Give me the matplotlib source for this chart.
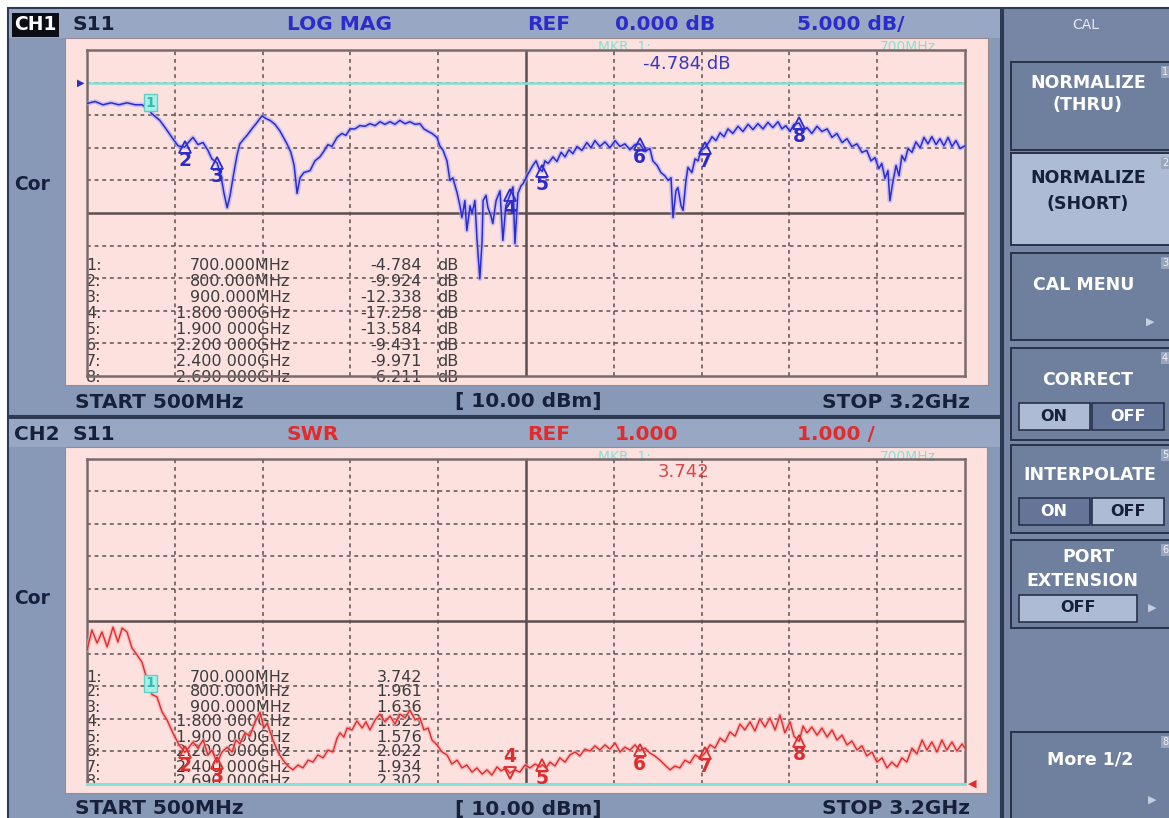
import matplotlib
matplotlib.use("Agg")
import matplotlib.pyplot as plt
from matplotlib.patches import Rectangle

# ---- data ----
# CH1: S11 LOG MAG, frequency in MHz, level in dB
ch1_freq = [500, 525, 549, 574, 598, 623, 648, 669, 688, 700,
            724, 743, 761, 780, 800, 813, 826, 841, 857, 872,
            884, 900, 912, 921, 931, 940, 949, 961, 970, 983,
            992, 1007, 1023, 1038, 1050, 1063, 1078, 1093, 1115, 1127,
            1137, 1146, 1155, 1167, 1186, 1201, 1216, 1226, 1241, 1253,
            1269, 1284, 1296, 1309, 1324, 1339, 1355, 1370, 1386, 1401,
            1416, 1432, 1447, 1462, 1478, 1493, 1509, 1524, 1536, 1546,
            1561, 1576, 1585, 1595, 1607, 1616, 1625, 1638, 1647, 1653,
            1662, 1668, 1678, 1684, 1693, 1699, 1708, 1715, 1718, 1727,
            1733, 1742, 1748, 1758, 1770, 1779, 1788, 1800, 1810, 1816,
            1825, 1835, 1841, 1853, 1862, 1871, 1881, 1890, 1900, 1908,
            1918, 1933, 1945, 1958, 1970, 1982, 1994, 2007, 2022, 2037,
            2050, 2062, 2077, 2093, 2108, 2124, 2139, 2154, 2170, 2185,
            2200, 2216, 2231, 2240, 2253, 2265, 2277, 2287, 2296, 2302,
            2311, 2317, 2327, 2333, 2342, 2348, 2360, 2370, 2379, 2388,
            2400, 2413, 2422, 2434, 2447, 2459, 2471, 2486, 2502, 2517,
            2533, 2548, 2563, 2579, 2594, 2609, 2625, 2637, 2649, 2662,
            2674, 2690, 2702, 2714, 2729, 2745, 2760, 2776, 2791, 2806,
            2822, 2837, 2852, 2868, 2883, 2898, 2911, 2923, 2935, 2944,
            2954, 2963, 2969, 2978, 2988, 2997, 3006, 3015, 3025, 3037,
            3049, 3062, 3074, 3086, 3098, 3111, 3123, 3135, 3148, 3160,
            3172, 3185, 3200]
ch1_db = [-3.2, -2.9, -3.4, -3.1, -3.4, -3.1, -3.4, -3.4, -4.0, -4.8,
          -5.8, -7.1, -8.4, -9.7, -9.9, -9.1, -8.4, -9.5, -9.2, -10.4,
          -11.7, -12.3, -14.3, -16.9, -19.2, -17.3, -14.6, -11.2, -9.4, -8.6,
          -8.1, -7.1, -6.1, -5.1, -5.5, -5.8, -6.4, -7.4, -9.4, -10.7,
          -12.7, -17.0, -14.6, -13.8, -13.5, -12.0, -11.4, -10.7, -9.5, -9.8,
          -8.4, -7.8, -8.1, -7.1, -7.1, -6.6, -6.7, -6.3, -6.6, -6.0,
          -6.4, -6.0, -6.4, -5.8, -6.3, -6.0, -6.4, -6.3, -7.1, -7.4,
          -7.8, -8.4, -9.7, -10.4, -12.0, -15.0, -14.6, -16.9, -18.9, -20.7,
          -18.1, -22.7, -18.9, -20.1, -18.1, -23.8, -30.1, -24.2, -18.1, -17.3,
          -19.2, -20.4, -21.6, -18.1, -16.6, -24.2, -18.9, -17.3, -16.0, -24.7,
          -17.0, -15.8, -15.5, -14.3, -13.5, -12.7, -12.0, -13.2, -13.6, -12.0,
          -12.4, -11.4, -12.1, -10.7, -11.4, -10.3, -10.9, -9.8, -10.4, -9.2,
          -10.0, -8.9, -9.8, -9.1, -10.0, -8.9, -9.8, -9.4, -10.3, -9.5,
          -9.4, -10.6, -10.1, -12.0, -12.7, -13.8, -14.3, -15.0, -14.6, -20.7,
          -16.6, -16.1, -18.9, -19.6, -15.0, -13.0, -13.8, -11.7, -12.0, -10.4,
          -10.0, -9.1, -8.3, -8.9, -7.7, -8.3, -7.1, -7.8, -6.7, -7.5,
          -6.4, -7.2, -6.3, -7.1, -6.1, -6.9, -6.0, -7.1, -6.6, -7.5,
          -6.4, -6.2, -7.4, -6.9, -7.8, -6.7, -7.5, -7.1, -8.4, -7.8,
          -9.2, -8.6, -9.8, -9.4, -10.7, -10.4, -12.0, -11.5, -13.2, -12.4,
          -14.7, -13.5, -18.1, -15.3, -12.7, -14.3, -11.2, -12.0, -10.1, -10.7,
          -9.1, -10.0, -8.4, -9.4, -8.3, -9.5, -8.6, -9.7, -8.4, -9.8,
          -8.9, -10.1, -9.7]

# CH2: S11 SWR
ch2_freq = [500, 515, 531, 546, 562, 580, 595, 608, 623, 638,
            654, 669, 685, 700, 715, 731, 746, 764, 783, 801,
            814, 826, 841, 857, 872, 884, 900, 915, 931, 946,
            958, 970, 986, 1001, 1017, 1032, 1044, 1054, 1063, 1072,
            1087, 1103, 1118, 1133, 1149, 1164, 1180, 1195, 1210, 1226,
            1241, 1256, 1269, 1278, 1290, 1300, 1315, 1330, 1346, 1358,
            1370, 1386, 1401, 1416, 1432, 1447, 1462, 1478, 1493, 1509,
            1524, 1536, 1549, 1561, 1576, 1592, 1607, 1622, 1638, 1653,
            1668, 1684, 1699, 1715, 1730, 1745, 1761, 1773, 1788, 1800,
            1816, 1831, 1847, 1862, 1878, 1893, 1900, 1911, 1924, 1939,
            1954, 1970, 1985, 2001, 2016, 2031, 2047, 2062, 2077, 2093,
            2108, 2124, 2139, 2154, 2170, 2185, 2200, 2216, 2231, 2246,
            2262, 2277, 2293, 2308, 2323, 2339, 2354, 2370, 2385, 2400,
            2416, 2431, 2447, 2462, 2477, 2493, 2508, 2523, 2539, 2554,
            2569, 2585, 2600, 2616, 2631, 2646, 2662, 2674, 2690, 2702,
            2714, 2729, 2745, 2760, 2776, 2791, 2806, 2822, 2837, 2852,
            2868, 2883, 2898, 2914, 2929, 2945, 2960, 2975, 2991, 3006,
            3021, 3037, 3052, 3068, 3083, 3098, 3114, 3129, 3144, 3160,
            3175, 3191, 3200]
ch2_swr = [5.11, 5.73, 5.33, 5.67, 5.21, 5.82, 5.36, 5.79, 5.67, 5.18,
           4.96, 4.74, 4.19, 3.74, 3.67, 3.20, 2.96, 2.56, 2.19, 1.96,
           2.12, 2.28, 2.09, 2.34, 1.88, 2.03, 1.64, 1.97, 2.12, 1.97,
           2.34, 2.22, 2.56, 2.46, 2.90, 3.20, 2.71, 2.86, 2.59, 2.34,
           1.97, 1.72, 1.54, 1.42, 1.57, 1.48, 1.72, 1.66, 1.88, 1.79,
           2.03, 1.97, 2.40, 2.56, 2.43, 2.71, 2.65, 2.93, 2.71, 2.90,
           2.65, 2.96, 3.14, 2.90, 3.08, 2.83, 3.14, 3.02, 3.26, 2.96,
           3.02, 2.65, 2.71, 2.34, 2.19, 1.97, 1.88, 1.60, 1.72, 1.48,
           1.57, 1.35, 1.48, 1.29, 1.42, 1.26, 1.51, 1.39, 1.48, 1.32,
           1.42, 1.35, 1.57, 1.48, 1.60, 1.51, 1.58, 1.48, 1.66, 1.54,
           1.79, 1.66, 1.88, 1.97, 1.85, 2.06, 2.00, 2.16, 2.03, 2.19,
           2.06, 2.25, 1.97, 2.12, 2.03, 2.19, 2.02, 2.09, 1.94, 1.85,
           1.72, 1.57, 1.42, 1.54, 1.48, 1.72, 1.63, 1.88, 1.79, 1.93,
           2.19, 2.09, 2.40, 2.28, 2.59, 2.46, 2.83, 2.65, 2.90, 2.62,
           2.99, 2.74, 3.02, 2.65, 3.11, 2.56, 2.90, 2.46, 2.30, 2.77,
           2.56, 2.74, 2.49, 2.71, 2.43, 2.65, 2.34, 2.49, 2.19, 2.31,
           2.03, 2.16, 1.85, 1.97, 1.66, 1.79, 1.48, 1.66, 1.51, 1.79,
           1.66, 2.09, 1.91, 2.34, 2.03, 2.28, 1.97, 2.34, 2.03, 2.28,
           2.00, 2.22, 2.09]

# markers
mkr_freq = [700, 800, 900, 1800, 1900, 2200, 2400, 2690]
mkr_db = [-4.784, -9.924, -12.338, -17.258, -13.584, -9.431, -9.971, -6.211]
mkr_swr = [3.742, 1.961, 1.636, 1.323, 1.576, 2.022, 1.934, 2.302]
mkr_freq_text = ["700.000MHz", "800.000MHz", "900.000MHz", "1.800 000GHz",
                 "1.900 000GHz", "2.200 000GHz", "2.400 000GHz", "2.690 000GHz"]

# ---- colours ----
FRAME = "#8899b8"
HEADER = "#97a7c4"
PINK = "#fde1df"
DARK = "#2e3a52"
GRID = "#5e4e50"
BLUE = "#2c2ccc"
RED = "#e02c2c"
CYAN = "#86e0d6"
INK = "#17203a"
PANEL = "#7686a4"
KEY = "#6f7f9e"
KEY_HI = "#adbbd4"

W, H = 1169, 818
fig = plt.figure(figsize=(W / 100, H / 100), dpi=100)
fig.patch.set_facecolor("white")

bg = fig.add_axes([0, 0, 1, 1])
bg.set_xlim(0, W)
bg.set_ylim(H, 0)
bg.axis("off")


def box(x0, y0, x1, y1, fc, ec="none", lw=0.0, z=1):
    bg.add_patch(Rectangle((x0, y0), x1 - x0, y1 - y0, facecolor=fc,
                           edgecolor=ec, linewidth=lw, zorder=z))


def txt(x, y, s, color=INK, size=14, weight="bold", ha="left", **kw):
    bg.text(x, y, s, color=color, fontsize=size, fontweight=weight,
            ha=ha, va="center", family="DejaVu Sans", zorder=5, **kw)


# channel frames
box(8, 8, 1001, 416, FRAME, ec=DARK, lw=1.5)
box(9, 9, 1000, 38, HEADER)
box(65, 38, 988, 385, PINK, ec="#9a8a90", lw=0.8)
box(8, 418, 1001, 830, FRAME, ec=DARK, lw=1.5)
box(9, 419, 1000, 447, HEADER)
box(65, 447, 987, 793, PINK, ec="#9a8a90", lw=0.8)

# headers / footers
txt(14, 25, "CH1", color="white", size=13.5,
    bbox=dict(boxstyle="square,pad=0.12", fc="#0c0c14", ec="none"))
txt(72, 25, "S11", size=14.5)
txt(287, 25, "LOG MAG", color=BLUE, size=14.5)
txt(527, 25, "REF", color=BLUE, size=14.5)
txt(615, 25, "0.000 dB", color=BLUE, size=14.5)
txt(797, 25, "5.000 dB/", color=BLUE, size=14.5)
txt(14, 185, "Cor", size=13.5)
txt(75, 402, "START 500MHz", size=14.5)
txt(455, 402, "[ 10.00 dBm]", size=14.5)
txt(822, 402, "STOP 3.2GHz", size=14.5)

txt(14, 434, "CH2", size=14.5)
txt(72, 434, "S11", size=14.5)
txt(287, 434, "SWR", color=RED, size=14.5)
txt(527, 434, "REF", color=RED, size=14.5)
txt(615, 434, "1.000", color=RED, size=14.5)
txt(797, 434, "1.000 /", color=RED, size=14.5)
txt(14, 598, "Cor", size=13.5)
txt(75, 809, "START 500MHz", size=14.5)
txt(455, 809, "[ 10.00 dBm]", size=14.5)
txt(822, 809, "STOP 3.2GHz", size=14.5)

# marker readouts
txt(598, 47, "MKR  1:", color=CYAN, size=10, weight="normal")
txt(880, 47, "700MHz", color=CYAN, size=10, weight="normal")
txt(643, 64, "-4.784 dB", color="#3a3ab8", size=13, weight="normal")
txt(598, 457, "MKR  1:", color=CYAN, size=10, weight="normal")
txt(880, 457, "700MHz", color=CYAN, size=10, weight="normal")
txt(658, 472, "3.742", color="#d84848", size=13, weight="normal")

# marker tables
for i, (ft, v) in enumerate(zip(mkr_freq_text, mkr_db)):
    y = 265 + 16 * i
    txt(86, y, f"{i + 1}:", color="#3c3c3c", size=11.5, weight="normal")
    txt(290, y, ft, color="#3c3c3c", size=11.5, weight="normal", ha="right")
    txt(422, y, f"{v:.3f}", color="#3c3c3c", size=11.5, weight="normal", ha="right")
    txt(437, y, "dB", color="#3c3c3c", size=11.5, weight="normal")
for i, (ft, v) in enumerate(zip(mkr_freq_text, mkr_swr)):
    y = 677 + 15 * i
    txt(86, y, f"{i + 1}:", color="#3c3c3c", size=11.5, weight="normal")
    txt(290, y, ft, color="#3c3c3c", size=11.5, weight="normal", ha="right")
    txt(422, y, f"{v:.3f}", color="#3c3c3c", size=11.5, weight="normal", ha="right")


# ---- the two trace grids ----
def chan_axes(top, bottom):
    ax = fig.add_axes([87 / W, 1 - bottom / H, 878 / W, (bottom - top) / H])
    ax.patch.set_alpha(0)
    ax.set_xticks([])
    ax.set_yticks([])
    for s in ax.spines.values():
        s.set_color("#7a6a6c")
        s.set_linewidth(1.8)
    return ax


def grid(ax, ylo, yhi, ndiv=10):
    ax.set_xlim(500, 3200)
    ax.set_ylim(ylo, yhi)
    xstep = (3200 - 500) / 10
    ystep = (yhi - ylo) / ndiv
    for i in range(1, 10):
        ls = "-" if i == 5 else (0, (2.5, 2.5))
        lw = 1.8 if i == 5 else 1.1
        ax.axvline(500 + xstep * i, color=GRID, lw=lw, ls=ls, zorder=1)
        ax.axhline(ylo + ystep * i, color=GRID, lw=lw, ls=ls, zorder=1)


ax1 = chan_axes(50, 376)
grid(ax1, -45, 5)
ax1.axhline(0, color=CYAN, lw=1.8, zorder=2)
ax1.plot(ch1_freq, ch1_db, color="#a4a4ff", lw=3.4, alpha=0.55, zorder=3)
ax1.plot(ch1_freq, ch1_db, color=BLUE, lw=1.1, zorder=4)
ax1.annotate("▶", xy=(0, 0), xycoords=("axes fraction", "data"), xytext=(-2, 0),
             textcoords="offset points", ha="right", va="center", color=BLUE, fontsize=7)

ax2 = chan_axes(459, 783.5)
grid(ax2, 1, 11)
ax2.plot(ch2_freq, ch2_swr, color="#f6a8a8", lw=3.0, alpha=0.6, zorder=3)
ax2.plot(ch2_freq, ch2_swr, color=RED, lw=1.0, zorder=4)
ax2.axhline(1, color=CYAN, lw=2.2, zorder=5, clip_on=False)
ax2.annotate("◀", xy=(1, 1), xycoords=("axes fraction", "data"), xytext=(2, 0),
             textcoords="offset points", ha="left", va="center", color=RED, fontsize=8)


def markers(ax, vals, color, down=()):
    for n, (f, v) in enumerate(zip(mkr_freq, vals), 1):
        if n == 1:
            ax.annotate("1", (f, v), xytext=(-1, 3), textcoords="offset points",
                        ha="center", va="bottom", color="#38b8b0", fontsize=10,
                        fontweight="bold", zorder=6,
                        bbox=dict(boxstyle="square,pad=0.12", fc="#a6f0e6", ec="#60d0c6"))
            continue
        if n in down:
            ax.plot(f, v, marker="v", ms=8, mfc="none", mec=color, mew=1.3, zorder=6)
            ax.annotate(str(n), (f, v), xytext=(0, 5), textcoords="offset points",
                        ha="center", va="bottom", color=color, fontsize=13.5,
                        fontweight="bold", zorder=6)
        else:
            ax.plot(f, v, marker="^", ms=8, mfc="none", mec=color, mew=1.3, zorder=6)
            ax.annotate(str(n), (f, v), xytext=(0, -3), textcoords="offset points",
                        ha="center", va="top", color=color, fontsize=13.5,
                        fontweight="bold", zorder=6)


markers(ax1, mkr_db, BLUE)
markers(ax2, mkr_swr, RED, down=(4,))

# ---- softkey panel ----
box(1003, 8, 1180, 830, PANEL, ec=DARK, lw=1.5)
txt(1086, 25, "CAL", color="#e6eaf2", size=10, weight="normal", ha="center")


def key(y0, y1, n, fc=KEY):
    box(1011, y0, 1180, y1, fc, ec="#283248", lw=1.4, z=2)
    txt(1162, y0 + 10, str(n), color="#eef0f6", size=7, weight="normal",
        bbox=dict(boxstyle="square,pad=0.1", fc="#9aa6bc", ec="none"))


def toggle(y0, y1, left_light):
    lo, hi = (KEY_HI, "#65759a") if left_light else ("#65759a", KEY_HI)
    box(1019, y0, 1090, y1, lo, ec="#283248", lw=1.2, z=3)
    box(1092, y0, 1164, y1, hi, ec="#283248", lw=1.2, z=3)
    txt(1054, (y0 + y1) / 2, "ON", color=INK if left_light else "white", size=11.5, ha="center")
    txt(1128, (y0 + y1) / 2, "OFF", color="white" if left_light else INK, size=11.5, ha="center")


key(62, 150, 1)
txt(1088, 83, "NORMALIZE", color="white", size=12.5, ha="center")
txt(1088, 105, "(THRU)", color="white", size=12.5, ha="center")

key(153, 245, 2, fc=KEY_HI)
txt(1088, 178, "NORMALIZE", size=12.5, ha="center")
txt(1088, 204, "(SHORT)", size=12.5, ha="center")

key(253, 340, 3)
txt(1084, 285, "CAL MENU", color="white", size=12.5, ha="center")
txt(1150, 322, "▶", color="#c6cedf", size=8, weight="normal", ha="center")

key(348, 440, 4)
txt(1088, 380, "CORRECT", color="white", size=12.5, ha="center")
toggle(403, 430, True)

key(445, 533, 5)
txt(1090, 475, "INTERPOLATE", color="white", size=12.5, ha="center")
toggle(498, 525, False)

key(540, 628, 6)
txt(1088, 557, "PORT", color="white", size=12.5, ha="center")
txt(1082, 581, "EXTENSION", color="white", size=12.5, ha="center")
box(1019, 595, 1137, 622, KEY_HI, ec="#283248", lw=1.2, z=3)
txt(1078, 608, "OFF", size=11.5, ha="center")
txt(1152, 608, "▶", color="#c6cedf", size=8, weight="normal", ha="center")

key(732, 830, 8)
txt(1090, 760, "More 1/2", color="white", size=12.5, ha="center")
txt(1152, 800, "▶", color="#c6cedf", size=8, weight="normal", ha="center")

fig.savefig("out.png", dpi=100)
